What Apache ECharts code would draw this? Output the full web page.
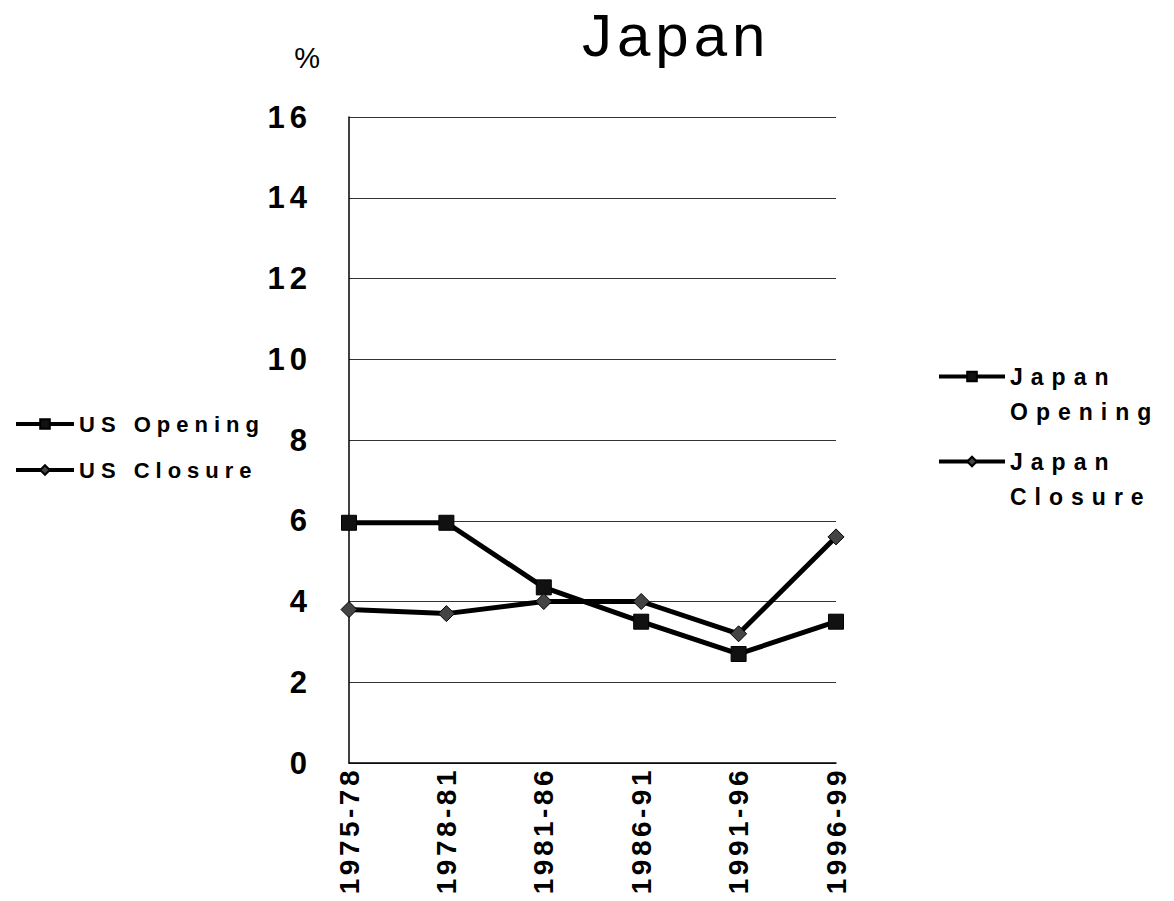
<!DOCTYPE html>
<html>
<head>
<meta charset="utf-8">
<script src="https://cdn.jsdelivr.net/npm/echarts@6/dist/echarts.min.js"></script>
<style>
html,body{margin:0;padding:0;background:#fff;}
#chart{width:1174px;height:901px;}
#chart text[style*="60px"]{letter-spacing:5px;}
#chart text[style*="31px"]{letter-spacing:5px;}
#chart text[style*="28px"]{letter-spacing:3.5px;}
#chart text[style*="22px"]{letter-spacing:6px;}
#chart text[style*="23px"]{letter-spacing:8px;}
</style>
</head>
<body>
<div id="chart"></div>
<script>
var categories = ['1975-78', '1978-81', '1981-86', '1986-91', '1991-96', '1996-99'];
var japanOpening = [5.95, 5.95, 4.35, 3.5, 2.7, 3.5];
var japanClosure = [3.8, 3.7, 4.0, 4.0, 3.2, 5.6];
var usOpening = [];
var usClosure = [];
var yTicks = { min: 0, max: 16, interval: 2 };

var FONT = 'Liberation Sans, Arial, sans-serif';
var chart = echarts.init(document.getElementById('chart'), null, { renderer: 'svg' });

function openingStyle(name, data) {
  return {
    name: name, type: 'line', data: data,
    symbol: 'rect', symbolSize: 15,
    lineStyle: { color: '#000', width: 5 },
    itemStyle: { color: '#111', borderColor: '#000', borderWidth: 1 },
    animation: false, z: 3
  };
}
function closureStyle(name, data) {
  return {
    name: name, type: 'line', data: data,
    symbol: 'diamond', symbolSize: 16,
    lineStyle: { color: '#000', width: 5 },
    itemStyle: { color: '#444', borderColor: '#000', borderWidth: 1 },
    animation: false, z: 3
  };
}

chart.setOption({
  backgroundColor: '#fff',
  animation: false,
  title: {
    text: 'Japan', left: 582, top: 5, padding: 0,
    textStyle: { fontFamily: FONT, fontSize: 60, fontWeight: 'normal', color: '#000' }
  },
  legend: [
    {
      data: ['US Opening', 'US Closure'],
      orient: 'vertical', left: 14, top: 413, padding: 0,
      itemWidth: 58, itemHeight: 12, itemGap: 24,
      selectedMode: false,
      lineStyle: { width: 4 },
      textStyle: { fontFamily: FONT, fontSize: 22, fontWeight: 'bold', color: '#000' }
    },
    {
      data: ['Japan Opening', 'Japan Closure'],
      orient: 'vertical', left: 937, top: 324, padding: 0,
      itemWidth: 66, itemHeight: 12, itemGap: -20,
      selectedMode: false,
      lineStyle: { width: 4 },
      formatter: function (n) { return '\n' + n.replace(' ', '\n'); },
      textStyle: { fontFamily: FONT, fontSize: 23, fontWeight: 'bold', color: '#000', lineHeight: 35 }
    }
  ],
  grid: { left: 349, right: 338, top: 117, bottom: 138, outerBoundsMode: 'none', containLabel: false },
  xAxis: {
    type: 'category', data: categories, boundaryGap: false,
    axisLine: { lineStyle: { color: '#000', width: 1.5 } },
    axisTick: { show: false },
    axisLabel: { rotate: 90, margin: 4, interval: 0, fontFamily: FONT, fontSize: 28, fontWeight: 'bold', color: '#000' },
    splitLine: { show: false }
  },
  yAxis: {
    type: 'value', min: yTicks.min, max: yTicks.max, interval: yTicks.interval,
    name: '%', nameLocation: 'end', nameGap: 45,
    nameTextStyle: { fontFamily: FONT, fontSize: 29, fontWeight: 'normal', color: '#000', align: 'right', padding: [0, 29, 0, 0] },
    axisLine: { show: true, lineStyle: { color: '#000', width: 1.5 } },
    axisTick: { show: false },
    axisLabel: { margin: 37, fontFamily: FONT, fontSize: 31, fontWeight: 'bold', color: '#000' },
    splitLine: { show: true, lineStyle: { color: '#333', width: 1 } }
  },
  series: [
    openingStyle('US Opening', usOpening),
    closureStyle('US Closure', usClosure),
    openingStyle('Japan Opening', japanOpening),
    closureStyle('Japan Closure', japanClosure)
  ]
});
</script>
</body>
</html>
